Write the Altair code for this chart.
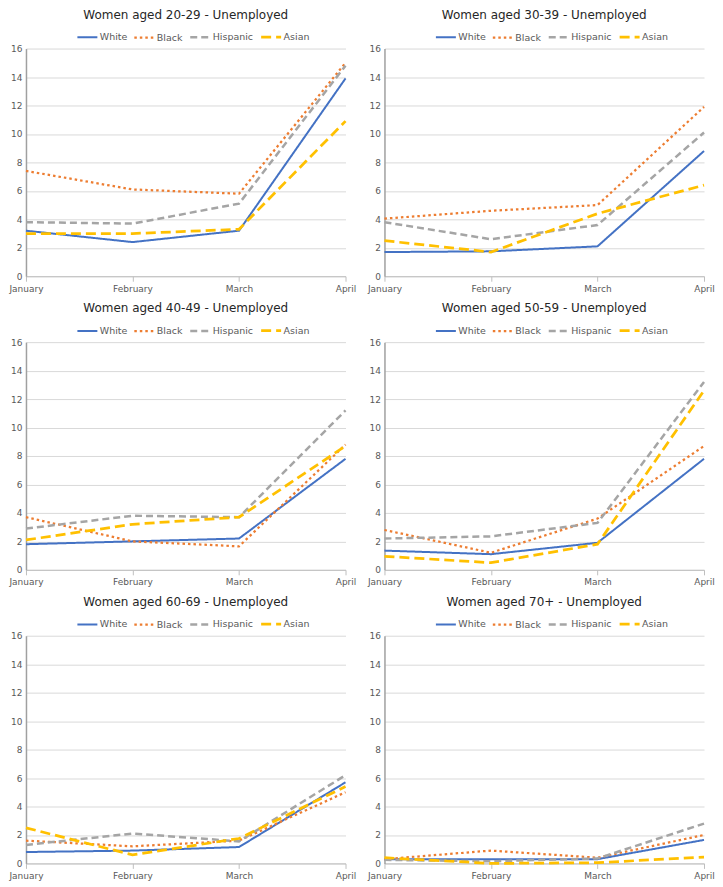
import altair as alt
import pandas as pd

months = ["January", "February", "March", "April"]
races = ["White", "Black", "Hispanic", "Asian"]
ages = ["20-29", "30-39", "40-49", "50-59", "60-69", "70+"]

# values per age group (rows follow `ages`), columns follow `months`
white = [
    [3.2, 2.4, 3.2, 13.9],
    [1.7, 1.75, 2.1, 8.8],
    [1.8, 2.0, 2.2, 7.8],
    [1.35, 1.1, 1.9, 7.8],
    [0.8, 0.9, 1.15, 5.7],
    [0.3, 0.3, 0.3, 1.65],
]
black = [
    [7.4, 6.1, 5.8, 15.0],
    [4.05, 4.6, 5.0, 11.9],
    [3.7, 2.0, 1.65, 8.8],
    [2.8, 1.2, 3.6, 8.7],
    [1.6, 1.2, 1.6, 5.0],
    [0.3, 0.9, 0.4, 2.0],
]
hispanic = [
    [3.8, 3.7, 5.1, 14.8],
    [3.8, 2.6, 3.6, 10.1],
    [2.9, 3.8, 3.7, 11.2],
    [2.2, 2.35, 3.3, 13.2],
    [1.3, 2.1, 1.55, 6.2],
    [0.25, 0.15, 0.35, 2.8],
]
asian = [
    [3.0, 3.0, 3.3, 10.9],
    [2.5, 1.7, 4.4, 6.4],
    [2.1, 3.2, 3.7, 8.7],
    [0.95, 0.5, 1.8, 12.6],
    [2.5, 0.6, 1.75, 5.4],
    [0.4, 0.0, 0.05, 0.45],
]

series = {"White": white, "Black": black, "Hispanic": hispanic, "Asian": asian}
rows = []
for ai, age in enumerate(ages):
    for race in races:
        for mi, m in enumerate(months):
            rows.append({"age": age, "race": race, "month": m, "value": series[race][ai][mi]})
df = pd.DataFrame(rows)

colors = ["#4472C4", "#ED7D31", "#A5A5A5", "#FFC000"]
dashes = [[1, 0], [2.5, 3], [7, 4], [10, 5]]
widths = [2, 2.75, 2.75, 3]

FONT = "DejaVu Sans"
W, H = 320, 228


def panel(age):
    leg = alt.Legend(
        title=None, orient="none", direction="horizontal", columns=4,
        legendX=50, legendY=-23, symbolType="stroke", symbolSize=400,
        symbolStrokeWidth=2.5, labelFont=FONT, labelFontSize=9.5,
        labelColor="#595959", labelOffset=1, columnPadding=2,
    )
    return (
        alt.Chart(df)
        .transform_filter(alt.datum.age == age)
        .mark_line()
        .encode(
            x=alt.X(
                "month:N", sort=months,
                scale=alt.Scale(type="point", padding=0),
                axis=alt.Axis(title=None, labelAngle=0, grid=False, ticks=True,
                              tickSize=5, tickColor="#BFBFBF", domainColor="#BFBFBF",
                              labelPadding=3),
            ),
            y=alt.Y(
                "value:Q",
                scale=alt.Scale(domain=[0, 16], nice=False),
                axis=alt.Axis(title=None, values=list(range(0, 17, 2)), grid=True,
                              gridColor="#D9D9D9", ticks=False, domainColor="#A0A0A0",
                              domainWidth=1.5, labelPadding=4),
            ),
            color=alt.Color("race:N", scale=alt.Scale(domain=races, range=colors), legend=leg),
            strokeDash=alt.StrokeDash("race:N", scale=alt.Scale(domain=races, range=dashes), legend=leg),
            strokeWidth=alt.StrokeWidth("race:N", scale=alt.Scale(domain=races, range=widths), legend=None),
        )
        .properties(
            width=W, height=H,
            title=alt.Title(f"Women aged {age} - Unemployed", font=FONT, fontSize=12,
                            fontWeight="normal", color="#262626", offset=4),
        )
    )


def res(c):
    return c.resolve_scale(color="independent", strokeDash="independent",
                           strokeWidth="independent").resolve_legend(
        color="independent", strokeDash="independent", strokeWidth="independent")


row1 = res(alt.hconcat(panel(ages[0]), panel(ages[1]), spacing=10))
row2 = res(alt.hconcat(panel(ages[2]), panel(ages[3]), spacing=10))
row3 = res(alt.hconcat(panel(ages[4]), panel(ages[5]), spacing=10))

chart = res(alt.vconcat(row1, row2, row3, spacing=9)).properties(padding=0).configure_view(
    stroke=None
).configure_axis(labelFont=FONT, labelFontSize=9, labelColor="#595959")

chart.save("out.html", embed_options={"renderer": "svg", "actions": False})
